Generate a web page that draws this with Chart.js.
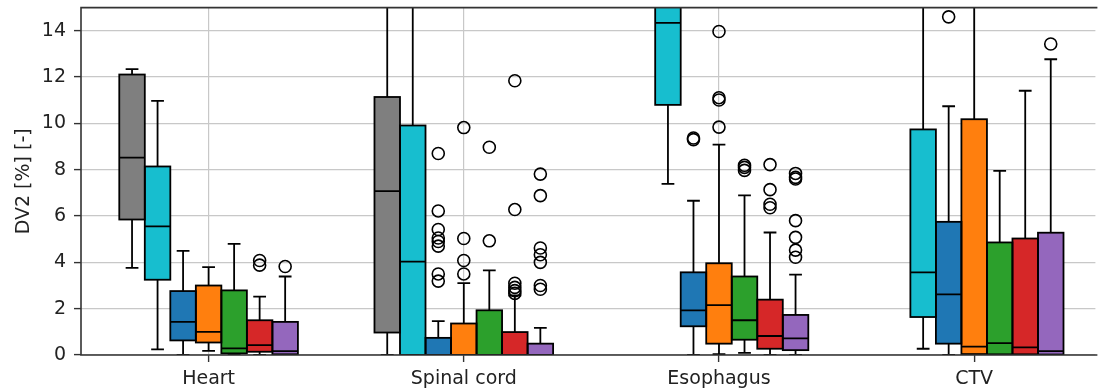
<!DOCTYPE html>
<html>
<head>
<meta charset="utf-8">
<script src="https://cdn.jsdelivr.net/npm/chart.js@4/dist/chart.umd.min.js"></script>
<style>
  html, body { margin: 0; padding: 0; background: #fff; overflow: hidden; }
  #wrap { width: 1103px; height: 390px; }
</style>
</head>
<body>
<div id="wrap"><canvas id="c" width="1103" height="390"></canvas></div>
<script>
// Structures along the x axis
const categories = ['Heart', 'Spinal cord', 'Esophagus', 'CTV'];
const yTicks = [0, 2, 4, 6, 8, 10, 12, 14];

// Box statistics: one row per series, one column per structure (DV2 in %)
const whiskerLow = [
  [3.76, 0.00, 16.0, 16.0],
  [0.24, 0.00, 7.39, 0.27],
  [0.00, 0.00, 0.00, 0.00],
  [0.18, 0.00, 0.04, 0.00],
  [0.00, 0.00, 0.09, 0.00],
  [0.00, 0.00, 0.00, 0.00],
  [0.00, 0.00, 0.00, 0.00]
];
const quartile1 = [
  [5.85, 0.97, 19.0, 18.0],
  [3.25, 0.00, 10.80, 1.64],
  [0.63, 0.00, 1.24, 0.49],
  [0.54, 0.00, 0.49, 0.04],
  [0.07, 0.00, 0.66, 0.03],
  [0.14, 0.00, 0.27, 0.03],
  [0.03, 0.00, 0.21, 0.02]
];
const medians = [
  [8.52, 7.08, 22.0, 21.0],
  [5.55, 4.03, 14.34, 3.57],
  [1.43, 0.00, 1.93, 2.62],
  [1.00, 0.00, 2.15, 0.36],
  [0.29, 0.00, 1.50, 0.51],
  [0.43, 0.00, 0.82, 0.33],
  [0.17, 0.00, 0.72, 0.17]
];
const quartile3 = [
  [12.11, 11.14, 25.0, 24.0],
  [8.14, 9.91, 17.0, 9.74],
  [2.76, 0.74, 3.57, 5.75],
  [3.00, 1.36, 3.96, 10.18],
  [2.79, 1.93, 3.39, 4.86],
  [1.50, 0.99, 2.39, 5.03],
  [1.43, 0.49, 1.73, 5.28]
];
const whiskerHigh = [
  [12.34, 17.5, 30.0, 28.0],
  [10.97, 17.0, 20.0, 17.0],
  [4.50, 1.46, 6.66, 10.74],
  [3.79, 3.10, 9.08, 17.0],
  [4.80, 3.65, 6.89, 7.95],
  [2.52, 2.57, 5.29, 11.41],
  [3.39, 1.17, 3.47, 12.77]
];
const outliers = [
  [[], [], [], []],
  [[], [], [], []],
  [[], [8.70, 6.22, 5.42, 5.05, 4.90, 4.70, 3.50, 3.19], [9.37, 9.30], [14.60]],
  [[], [9.82, 5.03, 4.08, 3.50], [13.97, 11.11, 11.01, 9.84], []],
  [[], [8.97, 4.93], [8.19, 8.10, 7.97], []],
  [[4.08, 3.88], [11.84, 6.28, 3.10, 2.92, 2.78, 2.66], [8.22, 7.14, 6.51, 6.36], []],
  [[3.82], [7.81, 6.88, 4.62, 4.33, 4.00, 3.00, 2.84], [7.84, 7.67, 7.60, 5.80, 5.08, 4.53, 4.22], [13.43]]
];

const boxColors = ['#7f7f7f', '#17becf', '#1f77b4', '#ff7f0e', '#2ca02c', '#d62728', '#9467bd'];
const nSeries = boxColors.length;
const groupFraction = 0.7;          // share of a category slot used by its boxes
const font = { family: 'DejaVu Sans', size: 19 };
const textColor = '#222';
const spineColor = '#333';
const edgeWidth = 1.8;

// Floating bars give the interquartile boxes
const boxDatasets = boxColors.map((color, k) => ({
  type: 'bar',
  data: categories.map((_, g) => ({ x: g, y: [quartile1[k][g], quartile3[k][g]] })),
  backgroundColor: color,
  borderWidth: 0,
  categoryPercentage: groupFraction,
  barPercentage: 1.0,
  grouped: true
}));

// Open circles for the outliers, placed at the centre of their box
const outlierDatasets = boxColors.map((_, k) => ({
  type: 'scatter',
  data: categories.flatMap((_, g) =>
    outliers[k][g].map(v => ({ x: g + (k - (nSeries - 1) / 2) * groupFraction / nSeries, y: v }))),
  pointStyle: 'circle',
  pointRadius: 6,
  pointBorderWidth: 1.6,
  pointBorderColor: '#000',
  pointBackgroundColor: 'rgba(0,0,0,0)',
  showLine: false
}));

// Whiskers, caps, box outlines, medians and the axes frame
const boxPlotPlugin = {
  id: 'boxWhiskers',
  afterDatasetsDraw(chart) {
    const { ctx, chartArea: a, scales: { y } } = chart;
    const py = v => y.getPixelForValue(v);
    const seg = (x1, y1, x2, y2) => { ctx.beginPath(); ctx.moveTo(x1, y1); ctx.lineTo(x2, y2); ctx.stroke(); };
    ctx.save();
    ctx.beginPath();
    ctx.rect(a.left, a.top, a.right - a.left, a.bottom - a.top);
    ctx.clip();
    ctx.strokeStyle = '#000';
    ctx.lineWidth = edgeWidth;
    for (let k = 0; k < nSeries; k++) {
      const meta = chart.getDatasetMeta(k);
      meta.data.forEach((bar, g) => {
        const cx = bar.x, half = bar.width / 2;
        const lo = py(whiskerLow[k][g]), hi = py(whiskerHigh[k][g]);
        const q1 = py(quartile1[k][g]), q3 = py(quartile3[k][g]);
        const md = py(medians[k][g]);
        seg(cx, q1, cx, lo);
        seg(cx, q3, cx, hi);
        seg(cx - half / 2, lo, cx + half / 2, lo);
        seg(cx - half / 2, hi, cx + half / 2, hi);
        ctx.strokeRect(cx - half, q3, 2 * half, q1 - q3);
        seg(cx - half, md, cx + half, md);
      });
    }
    ctx.restore();
  },
  afterDraw(chart) {
    const { ctx, chartArea: a } = chart;
    ctx.save();
    ctx.strokeStyle = spineColor;
    ctx.lineWidth = 1.6;
    ctx.beginPath();
    ctx.moveTo(a.right + 2, a.top);
    ctx.lineTo(a.left, a.top);
    ctx.lineTo(a.left, a.bottom);
    ctx.lineTo(a.right + 2, a.bottom);
    ctx.stroke();
    ctx.restore();
  }
};

new Chart(document.getElementById('c'), {
  type: 'bar',
  data: { datasets: [...boxDatasets, ...outlierDatasets] },
  options: {
    responsive: false,
    animation: false,
    devicePixelRatio: 1,
    layout: { padding: { top: 5, left: 0, right: 0, bottom: 0 } },
    plugins: { legend: { display: false }, tooltip: { enabled: false } },
    scales: {
      x: {
        type: 'linear',
        min: -0.5,
        max: 3.475,
        offset: false,
        afterBuildTicks: s => { s.ticks = categories.map((_, i) => ({ value: i })); },
        afterFit: s => { s.height = 35; s.paddingLeft = 0; s.paddingRight = 0; },
        ticks: {
          callback: v => categories[v] ?? '',
          font, color: textColor, padding: 6, maxRotation: 0, autoSkip: false
        },
        grid: {
          color: '#c8c8c8', lineWidth: 1.2, offset: false,
          drawTicks: true, tickLength: 7, tickColor: spineColor, tickWidth: 1.4
        },
        border: { display: false }
      },
      y: {
        min: 0,
        max: 15,
        afterBuildTicks: s => { s.ticks = yTicks.map(v => ({ value: v })); },
        afterFit: s => { s.width = 81; s.paddingTop = 0; s.paddingBottom = 0; },
        ticks: { font, color: textColor, padding: 8 },
        grid: {
          color: '#c8c8c8', lineWidth: 1.2,
          drawTicks: true, tickLength: 7, tickColor: spineColor, tickWidth: 1.4
        },
        border: { display: false },
        title: {
          display: true, text: 'DV2 [%] [-]', font, color: textColor,
          padding: { top: 13, bottom: 0 }
        }
      }
    }
  },
  plugins: [boxPlotPlugin]
});
</script>
</body>
</html>
